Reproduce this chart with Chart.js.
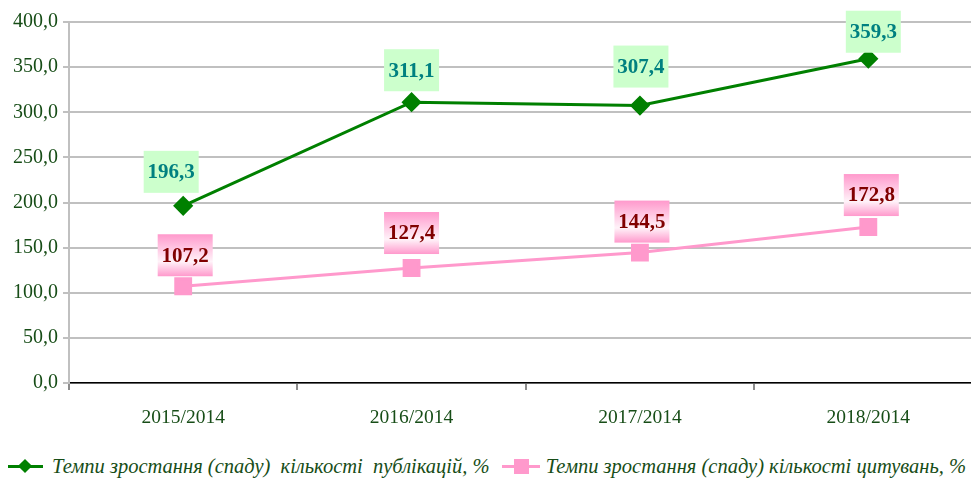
<!DOCTYPE html>
<html lang="uk">
<head>
    <meta charset="UTF-8">
    <script src="https://cdn.jsdelivr.net/npm/chart.js"></script>
    <style>
        body {
            margin: 0;
            background: #fff;
            overflow: hidden;
            width: 971px;
            height: 481px;
            position: relative;
            font-family: "Liberation Serif", "Times New Roman", serif;
        }
        #chart {
            position: absolute;
            left: 0;
            top: 0;
        }
        .legend {
            position: absolute;
            top: 455px;
            left: 8px;
            display: flex;
            align-items: center;
            font-style: italic;
            font-size: 20.5px;
            color: #174d17;
            white-space: nowrap;
        }
        .legend-item {
            display: flex;
            align-items: center;
        }
        .legend-mark {
            position: relative;
            width: 35px;
            height: 20px;
            margin-right: 9px;
        }
        .legend-mark .ln {
            position: absolute;
            left: 0;
            right: 0;
            top: 8.5px;
            height: 3px;
        }
        .legend-mark .pt {
            position: absolute;
        }
    </style>
</head>
<body>
    <canvas id="chart" width="996" height="440"></canvas>
    <div class="legend">
        <div class="legend-item" style="margin-right:12px;">
            <div class="legend-mark">
                <div class="ln" style="background:#008000;"></div>
                <div class="pt" style="left:12px;top:4.5px;width:10px;height:10px;background:#008000;transform:rotate(45deg);"></div>
            </div>
            <span>Темпи зростання (спаду)&nbsp; кількості&nbsp; публікацій, %</span>
        </div>
        <div class="legend-item">
            <div class="legend-mark" style="width:38px;margin-right:6px;">
                <div class="ln" style="background:#ff99cc;"></div>
                <div class="pt" style="left:12px;top:2px;width:15px;height:15px;background:#ff99cc;"></div>
            </div>
            <span>Темпи зростання (спаду) кількості цитувань, %</span>
        </div>
    </div>

    <script>
        const categories = ['2015/2014', '2016/2014', '2017/2014', '2018/2014'];
        const publications = [196.3, 311.1, 307.4, 359.3];
        const citations = [107.2, 127.4, 144.5, 172.8];
        const seriesNames = [
            'Темпи зростання (спаду)  кількості  публікацій, %',
            'Темпи зростання (спаду) кількості цитувань, %'
        ];

        // where the value boxes sit relative to their points
        const labelOffsets = [
            [[-12, -34], [0, -32], [1, -39], [5, -27]],
            [[2, -31], [0, -35], [2, -31], [3, -32]]
        ];

        const fmt = v => v.toFixed(1).replace('.', ',');

        const valueBoxes = {
            id: 'valueBoxes',
            afterDatasetsDraw(chart) {
                const ctx = chart.ctx;
                ctx.save();
                ctx.font = 'bold 21px "Liberation Serif", serif';
                ctx.textAlign = 'center';
                ctx.textBaseline = 'middle';
                chart.data.datasets.forEach((ds, di) => {
                    const meta = chart.getDatasetMeta(di);
                    meta.data.forEach((pt, i) => {
                        const cx = pt.x + labelOffsets[di][i][0];
                        const cy = pt.y + labelOffsets[di][i][1];
                        const w = 55, h = 42;
                        const x0 = cx - w / 2, y0 = cy - h / 2;
                        if (di === 0) {
                            ctx.fillStyle = '#ccffcc';
                        } else {
                            const g = ctx.createLinearGradient(0, y0, 0, y0 + h);
                            g.addColorStop(0, '#ff99cc');
                            g.addColorStop(0.65, '#fff3f9');
                            g.addColorStop(1, '#ff99cc');
                            ctx.fillStyle = g;
                        }
                        ctx.fillRect(x0, y0, w, h);
                        ctx.fillStyle = di === 0 ? '#008080' : '#800000';
                        ctx.fillText(fmt(ds.data[i]), cx, cy + 1);
                    });
                });
                ctx.restore();
            }
        };

        new Chart(document.getElementById('chart'), {
            type: 'line',
            data: {
                labels: categories,
                datasets: [
                    {
                        label: seriesNames[0],
                        data: publications,
                        borderColor: '#008000',
                        backgroundColor: '#008000',
                        borderWidth: 3,
                        pointStyle: 'rectRot',
                        pointRadius: 8,
                        pointHoverRadius: 8,
                        tension: 0
                    },
                    {
                        label: seriesNames[1],
                        data: citations,
                        borderColor: '#ff99cc',
                        backgroundColor: '#ff99cc',
                        borderWidth: 3,
                        pointStyle: 'rect',
                        pointRadius: 10.5,
                        pointHoverRadius: 10.5,
                        tension: 0
                    }
                ]
            },
            options: {
                responsive: false,
                animation: false,
                layout: { padding: { top: 22, left: 0, right: 0, bottom: 0 } },
                scales: {
                    x: {
                        offset: true,
                        grid: {
                            display: true,
                            offset: true,
                            drawOnChartArea: false,
                            drawTicks: true,
                            tickLength: 7,
                            tickColor: '#8c8c8c',
                            lineWidth: 2
                        },
                        border: { color: '#000', width: 1.5 },
                        ticks: {
                            padding: 16,
                            color: '#174d17',
                            font: { family: '"Liberation Serif", serif', size: 19.5 }
                        },
                        afterFit(scale) { scale.height = 57; }
                    },
                    y: {
                        min: 0,
                        max: 400,
                        grid: { color: '#c0c0c0', lineWidth: 2, tickLength: 6 },
                        border: { color: '#c0c0c0', width: 2 },
                        ticks: {
                            stepSize: 50,
                            padding: 5,
                            color: '#174d17',
                            font: { family: '"Liberation Serif", serif', size: 20 },
                            callback: v => fmt(v)
                        },
                        afterFit(scale) { scale.width = 69; }
                    }
                },
                plugins: {
                    legend: { display: false },
                    tooltip: { enabled: false }
                }
            },
            plugins: [valueBoxes]
        });
    </script>
</body>
</html>
